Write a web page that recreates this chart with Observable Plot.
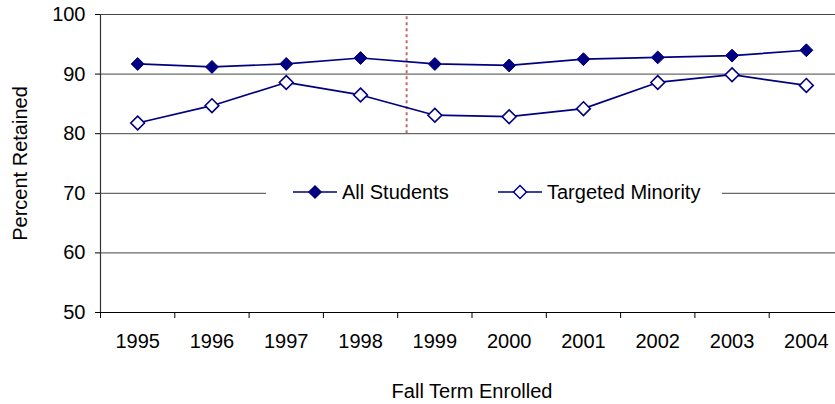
<!DOCTYPE html>
<html><head><meta charset="utf-8">
<script src="https://cdn.jsdelivr.net/npm/d3@7"></script>
<script src="https://cdn.jsdelivr.net/npm/@observablehq/plot@0.6"></script>
<style>
body{margin:0;background:#fff;}
#wrap{position:relative;width:835px;height:404px;overflow:hidden;font-family:"Liberation Sans",Arial,sans-serif;}
#legend{position:absolute;left:266px;top:181px;width:456px;height:22px;background:#fff;}
.item{position:absolute;top:0;height:22px;display:flex;align-items:center;font-size:20px;color:#000;white-space:nowrap;}
.item svg{margin-right:5px;}
</style></head><body><div id="wrap"><div id="legend"></div></div>
<script>
const years = [1995, 1996, 1997, 1998, 1999, 2000, 2001, 2002, 2003, 2004];
const allStudents = [91.7, 91.2, 91.7, 92.7, 91.7, 91.45, 92.5, 92.8, 93.1, 94.0];
const targetedMinority = [81.8, 84.7, 88.6, 86.5, 83.1, 82.85, 84.2, 88.6, 89.9, 88.1];
const yTicks = [50, 60, 70, 80, 90, 100];
const seriesNames = ["All Students", "Targeted Minority"];
const dividerYear = 1998.62;
const dividerSpan = [80, 100];
const xTitle = "Fall Term Enrolled";
const yTitle = "Percent Retained";

const navy = "#000080";
const fs = 20;
const rowsA = years.map((year, i) => ({year, value: allStudents[i]}));
const rowsT = years.map((year, i) => ({year, value: targetedMinority[i]}));
const bounds = [...years.map(y => y - 0.5), years[years.length - 1] + 0.5];

const chart = Plot.plot({
  width: 835, height: 404,
  marginLeft: 100, marginRight: -8, marginTop: 14, marginBottom: 92,
  style: {fontFamily: "'Liberation Sans', Arial, sans-serif", fontSize: fs + "px", background: "white", color: "#000", overflow: "hidden"},
  x: {domain: [bounds[0], bounds[bounds.length - 1]]},
  y: {domain: [yTicks[0], yTicks[yTicks.length - 1]]},
  marks: [
    Plot.ruleY(yTicks.slice(1), {stroke: "#444", strokeWidth: 1}),
    Plot.ruleY([yTicks[0]], {stroke: "#000", strokeWidth: 1.2}),
    Plot.ruleX([bounds[0]], {y1: yTicks[0], y2: yTicks[yTicks.length - 1], stroke: "#333", strokeWidth: 1.2}),
    Plot.axisX(bounds, {tickSize: 6, tickFormat: () => "", label: null, stroke: "#000"}),
    Plot.axisX(years, {tickSize: 0, tickPadding: 21, tickFormat: d => String(d), label: null, fontSize: fs}),
    Plot.axisY(yTicks, {tickSize: 5, tickPadding: 10, label: null, stroke: "#000", fontSize: fs}),
    Plot.ruleX([dividerYear], {y1: dividerSpan[0], y2: dividerSpan[1], stroke: "#c86868", strokeWidth: 2, strokeDasharray: "3,3"}),
    Plot.line(rowsA, {x: "year", y: "value", stroke: navy, strokeWidth: 1.7}),
    Plot.line(rowsT, {x: "year", y: "value", stroke: navy, strokeWidth: 1.7}),
    Plot.dot(rowsA, {x: "year", y: "value", symbol: "diamond2", r: 5.8, fill: navy, stroke: navy, strokeWidth: 1}),
    Plot.dot(rowsT, {x: "year", y: "value", symbol: "diamond2", r: 6.2, fill: "white", stroke: navy, strokeWidth: 1.6}),
    Plot.text([yTitle], {frameAnchor: "left", rotate: -90, dx: -80, textAnchor: "middle", lineAnchor: "middle", fontSize: fs}),
    Plot.text([xTitle], {frameAnchor: "bottom", dy: 79, textAnchor: "middle", lineAnchor: "middle", fontSize: fs})
  ]
});
document.getElementById("wrap").prepend(chart);

// Legend overlay
const legend = document.getElementById("legend");
const offsets = [27, 232];
seriesNames.forEach((name, i) => {
  const item = document.createElement("div");
  item.className = "item";
  item.style.left = offsets[i] + "px";
  const filled = i === 0;
  const h = filled ? 6 : 6.5;
  item.innerHTML = `<svg width="44" height="22" viewBox="0 0 44 22">
    <line x1="0" x2="44" y1="11" y2="11" stroke="${navy}" stroke-width="1.7"/>
    <polygon points="22,${11 - h} ${22 + h},11 22,${11 + h} ${22 - h},11" fill="${filled ? navy : "white"}" stroke="${navy}" stroke-width="1.5"/>
  </svg><span>${name}</span>`;
  legend.appendChild(item);
});
</script>
</body></html>
